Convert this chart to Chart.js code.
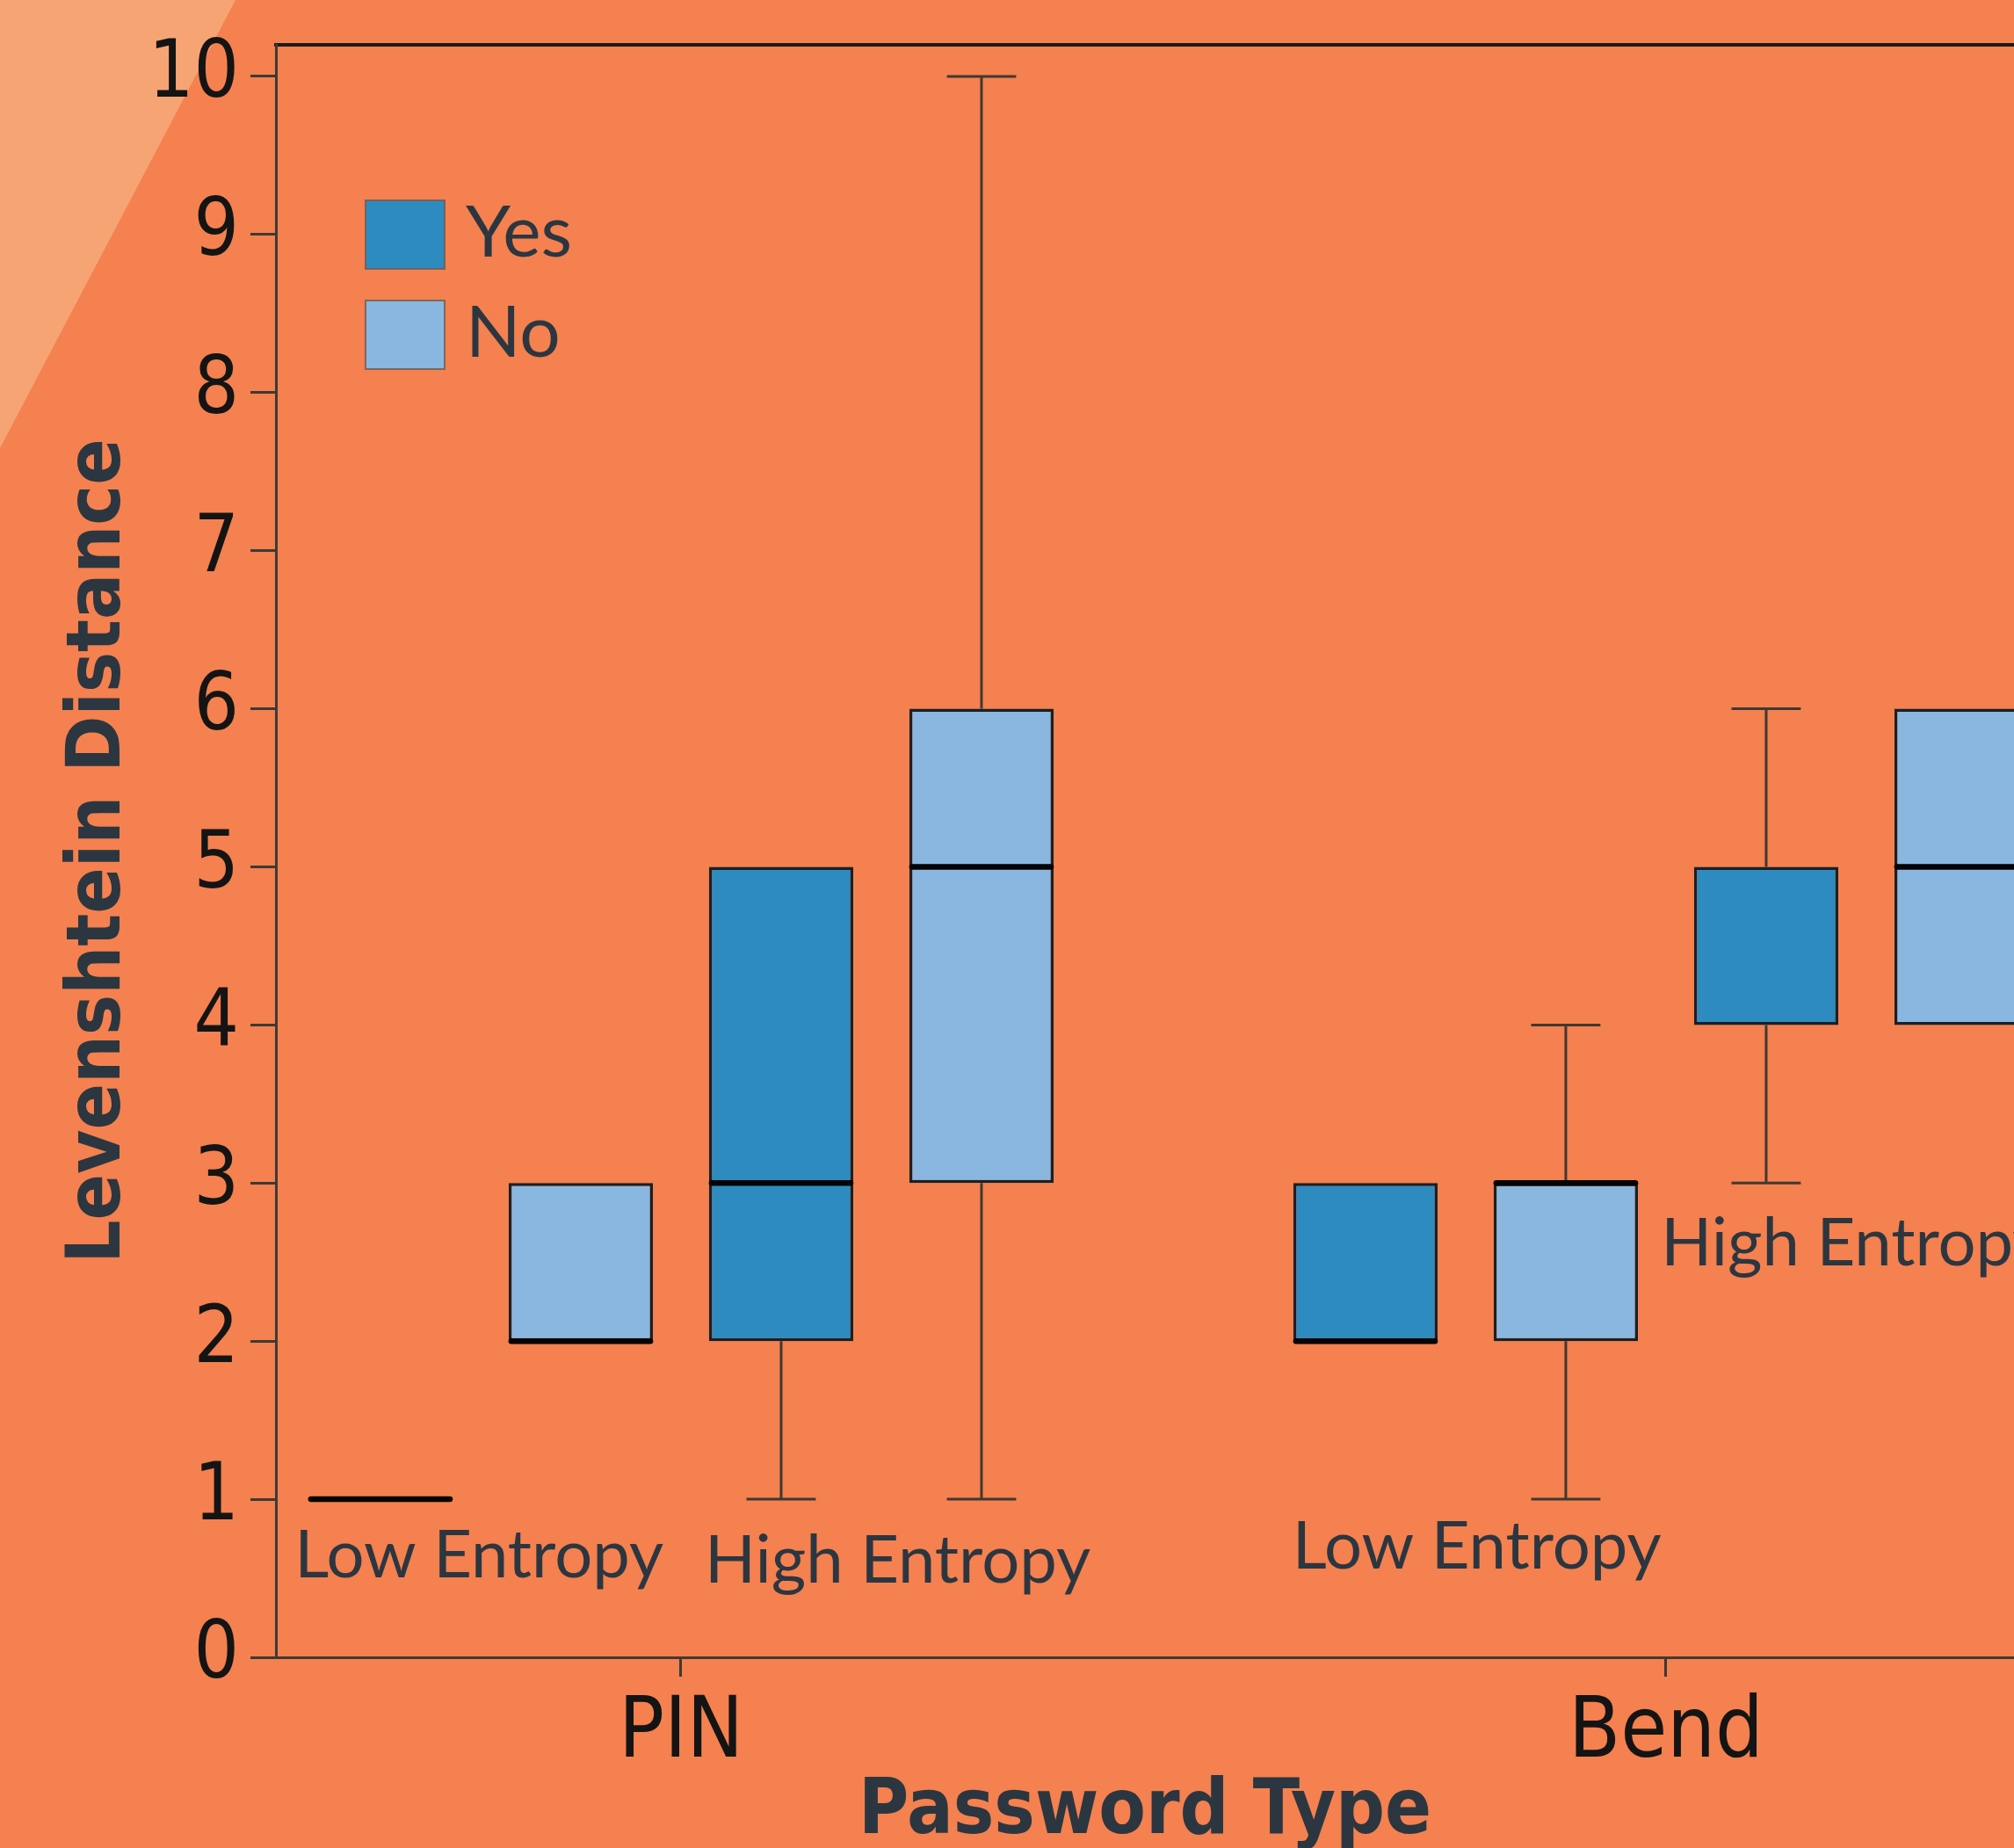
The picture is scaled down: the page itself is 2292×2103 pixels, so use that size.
<!DOCTYPE html>
<html>
<head>
<meta charset="utf-8">
<title>Levenshtein Distance by Password Type</title>
<script src="https://cdn.jsdelivr.net/npm/chart.js@4.4.1/dist/chart.umd.min.js"></script>
<style>
  html, body { margin: 0; padding: 0; overflow: hidden; background: #f4814f; }
  #wrap { width: 2292px; height: 2103px; position: relative; }
</style>
</head>
<body>
<div id="wrap"><canvas id="box-chart"></canvas></div>
<script>
// DATA

const categories = ['PIN', 'Bend']
const yTicks = [0, 1, 2, 3, 4, 5, 6, 7, 8, 9, 10]

// low entropy / yes
const lowYes_q1  = [1, 2]
const lowYes_q3  = [1, 3]
const lowYes_med = [1, 2]
const lowYes_lo  = [null, null]
const lowYes_hi  = [null, null]

// low entropy / no
const lowNo_q1  = [2, 2]
const lowNo_q3  = [3, 3]
const lowNo_med = [2, 3]
const lowNo_lo  = [null, 1]
const lowNo_hi  = [null, 4]

// high entropy / yes
const highYes_q1  = [2, 4]
const highYes_q3  = [5, 5]
const highYes_med = [3, null]
const highYes_lo  = [1, 3]
const highYes_hi  = [null, 6]

// high entropy / no
const highNo_q1  = [3, 4]
const highNo_q3  = [6, 6]
const highNo_med = [5, 5]
const highNo_lo  = [1, null]
const highNo_hi  = [10, null]

// text notes, placed in data units
const noteText = ['Low Entropy', 'High Entropy', 'Low Entropy', 'High Entropy']
const noteX    = [0.795, 1.22, 1.808, 1.995]
const noteY    = [0.506, 0.47, 0.56, 2.478]
const noteAlign = ['center', 'center', 'center', 'left']

const legendNames = ['Yes', 'No']

const xMin = 0.5888
const xMax = 2.3533

// STYLE

const NARROW = '"Liberation Sans Narrow", "DejaVu Sans Condensed", "Liberation Sans", sans-serif'
const BOOK = 'Lato, "Noto Sans", sans-serif'
const YES_COLOR = '#2e8bc0'
const NO_COLOR = '#8ab7df'
const INK = '#2c3640'
const AXIS = '#3d3a36'


function make_dataset(label, color, q1, q3, med, lo, hi){
    return {
        label: label,
        data: categories.map((c, i) => ({x: i + 1, y: [q1[i], q3[i]]})),
        backgroundColor: color,
        borderColor: '#192026',
        borderWidth: 3.5,
        borderSkipped: false,
        barPercentage: 0.72,
        categoryPercentage: 0.8136,
        stats: {q1: q1, q3: q3, med: med, lo: lo, hi: hi}
    }
}

const datasets = [
    make_dataset('Low Entropy Yes', YES_COLOR, lowYes_q1, lowYes_q3, lowYes_med, lowYes_lo, lowYes_hi),
    make_dataset('Low Entropy No', NO_COLOR, lowNo_q1, lowNo_q3, lowNo_med, lowNo_lo, lowNo_hi),
    make_dataset('High Entropy Yes', YES_COLOR, highYes_q1, highYes_q3, highYes_med, highYes_lo, highYes_hi),
    make_dataset('High Entropy No', NO_COLOR, highNo_q1, highNo_q3, highNo_med, highNo_lo, highNo_hi)
]


// PLUGINS

const backdrop = {
    id: 'backdrop',
    beforeDraw(chart){
        const c = chart.ctx
        c.save()
        c.fillStyle = '#f4814f'
        c.fillRect(0, 0, chart.width, chart.height)
        c.fillStyle = '#f7a474'
        c.beginPath()
        c.moveTo(0, 0)
        c.lineTo(268, 0)
        c.lineTo(0, 510)
        c.closePath()
        c.fill()
        c.restore()
    }
}

// whiskers + median lines on top of the floating bars
const boxExtras = {
    id: 'boxExtras',
    afterDatasetsDraw(chart){
        const c = chart.ctx
        const ys = chart.scales.y
        const a = chart.chartArea
        c.save()
        c.beginPath()
        c.rect(a.left, a.top, a.right - a.left, a.bottom - a.top)
        c.clip()
        chart.data.datasets.forEach((ds, di) => {
            const meta = chart.getDatasetMeta(di)
            const s = ds.stats
            meta.data.forEach((bar, i) => {
                const p = bar.getProps(['x', 'width'], true)
                const half = p.width / 2
                const cap = p.width * 0.24
                c.strokeStyle = '#3f3932'
                c.lineWidth = 3
                c.lineCap = 'butt'
                if (s.hi[i] != null){
                    const y0 = ys.getPixelForValue(s.q3[i])
                    const y1 = ys.getPixelForValue(s.hi[i])
                    c.beginPath()
                    c.moveTo(p.x, y0); c.lineTo(p.x, y1)
                    c.moveTo(p.x - cap, y1); c.lineTo(p.x + cap, y1)
                    c.stroke()
                }
                if (s.lo[i] != null){
                    const y0 = ys.getPixelForValue(s.q1[i])
                    const y1 = ys.getPixelForValue(s.lo[i])
                    c.beginPath()
                    c.moveTo(p.x, y0); c.lineTo(p.x, y1)
                    c.moveTo(p.x - cap, y1); c.lineTo(p.x + cap, y1)
                    c.stroke()
                }
                if (s.med[i] != null){
                    const ym = ys.getPixelForValue(s.med[i])
                    c.strokeStyle = '#050505'
                    c.lineWidth = 6.5
                    c.lineCap = 'round'
                    c.beginPath()
                    c.moveTo(p.x - half + 3, ym); c.lineTo(p.x + half - 3, ym)
                    c.stroke()
                }
            })
        })
        c.restore()
    }
}

const notes = {
    id: 'notes',
    afterDraw(chart){
        const c = chart.ctx
        const xs = chart.scales.x
        const ys = chart.scales.y
        c.save()
        c.fillStyle = INK
        c.font = '76px ' + BOOK
        c.textBaseline = 'alphabetic'
        noteText.forEach((t, i) => {
            c.textAlign = noteAlign[i]
            c.fillText(t, xs.getPixelForValue(noteX[i]), ys.getPixelForValue(noteY[i]))
        })

        // legend, top left inside the plot
        const a = chart.chartArea
        const colors = [YES_COLOR, NO_COLOR]
        c.font = '82px ' + BOOK
        c.textAlign = 'left'
        c.textBaseline = 'middle'
        legendNames.forEach((name, i) => {
            const bx = a.left + 102
            const by = a.top + 177 + i * 114
            c.fillStyle = colors[i]
            c.fillRect(bx, by, 90, 78)
            c.strokeStyle = 'rgba(110,90,80,0.8)'
            c.lineWidth = 2
            c.strokeRect(bx, by, 90, 78)
            c.fillStyle = INK
            c.fillText(name, bx + 114, by + 38)
        })
        c.restore()
    }
}


// CHART

window.onload = () => {
    draw_box_chart()
}

function draw_box_chart(){
    const config = {
        type: 'bar',
        data: {datasets: datasets},
        plugins: [backdrop, boxExtras, notes],
        options: {
            responsive: true,
            maintainAspectRatio: false,
            animation: false,
            layout: {padding: 0},
            plugins: {
                legend: {display: false},
                tooltip: {enabled: false}
            },
            scales: {
                x: {
                    type: 'linear',
                    min: xMin,
                    max: xMax,
                    offset: false,
                    grid: {drawOnChartArea: false, offset: false, tickLength: 22, color: AXIS, lineWidth: 3},
                    border: {color: AXIS, width: 3},
                    ticks: {
                        autoSkip: false,
                        maxRotation: 0,
                        padding: 8,
                        color: '#141414',
                        font: {family: NARROW, size: 96},
                        callback: (v) => categories[v - 1]
                    },
                    afterBuildTicks: (s) => { s.ticks = categories.map((c, i) => ({value: i + 1})) },
                    afterFit: (s) => { s.height = 217; s.paddingLeft = 0; s.paddingRight = 0 },
                    title: {
                        display: true,
                        text: 'Password Type',
                        color: INK,
                        font: {family: NARROW, size: 87, weight: 'bold', lineHeight: 0.9},
                        padding: 0
                    }
                },
                xTop: {
                    type: 'linear',
                    position: 'top',
                    min: xMin,
                    max: xMax,
                    grid: {display: false, drawTicks: false},
                    ticks: {display: false},
                    border: {color: '#1b1b1b', width: 4},
                    afterFit: (s) => { s.height = 51 }
                },
                y: {
                    min: 0,
                    max: 10.2,
                    grid: {drawOnChartArea: false, tickLength: 29, color: AXIS, lineWidth: 3},
                    border: {color: AXIS, width: 3},
                    ticks: {
                        padding: 13,
                        color: '#141414',
                        font: {family: NARROW, size: 90}
                    },
                    afterBuildTicks: (s) => { s.ticks = yTicks.map(v => ({value: v})) },
                    afterFit: (s) => { s.width = 314; s.paddingTop = 0; s.paddingBottom = 0 },
                    title: {
                        display: true,
                        text: 'Levenshtein Distance',
                        color: INK,
                        font: {family: NARROW, size: 86, weight: 'bold'},
                        padding: {top: 62, bottom: 0}
                    }
                }
            }
        }
    }

    const boxChart = new Chart(document.getElementById('box-chart'), config)
}
</script>
</body>
</html>
